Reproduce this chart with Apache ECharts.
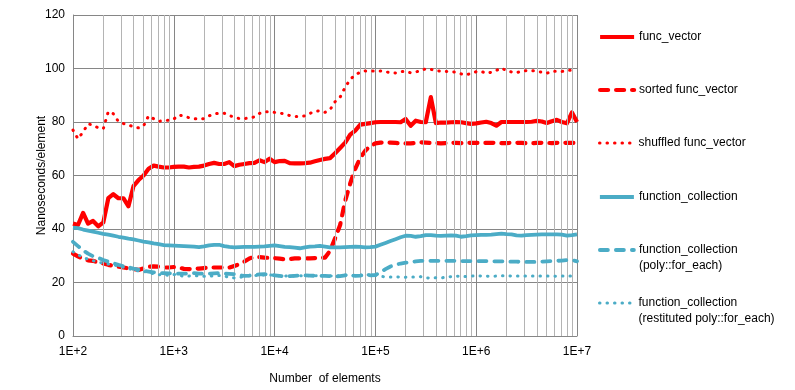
<!DOCTYPE html>
<html>
<head>
<meta charset="utf-8">
<script src="https://cdn.jsdelivr.net/npm/echarts@6/dist/echarts.min.js"></script>
<style>html,body{margin:0;padding:0;background:#fff}#chart{width:795px;height:390px}</style>
</head>
<body>
<div id="chart"></div>
<script>
// Number of elements (x values)
const xs = [100,112,126,141,158,178,200,224,251,282,316,355,398,447,501,562,631,708,794,891,
1000,1122,1259,1413,1585,1778,1995,2239,2512,2818,3162,3548,3981,4467,5012,5623,6310,7079,7943,8913,
10000,11220,12589,14125,15849,17783,19953,22387,25119,28184,31623,35481,39811,44668,50119,56234,63096,70795,79433,89125,
100000,112202,125893,141254,158489,177828,199526,223872,251189,281838,316228,354813,398107,446684,501187,562341,630957,707946,794328,891251,
1000000,1122018,1258925,1412538,1584893,1778279,1995262,2238721,2511886,2818383,3162278,3548134,3981072,4466836,5011872,5623413,6309573,7079458,7943282,8912509,
10000000];

const funcVector = [42,41.5,46,42,43,41,42.5,51.5,53,51.5,
51.5,48.5,56,58.3,60,62.5,63.7,63.3,63,63,
63.2,63.3,63.3,63,63.2,63.3,63.7,64.3,64.7,64.3,
64.3,65,63.5,64,64.3,64.6,64.7,65.7,65,66.3,
65,65.4,65.5,64.6,64.5,64.5,64.6,64.8,65.3,65.8,
66.2,66.5,68.3,70.3,72.3,75.3,76.8,79,79.3,79.6,
79.9,80,80,80,80,79.9,81.1,78.6,80.5,80,
79.9,89.3,79.6,79.8,79.8,79.9,80,79.9,79.6,79.3,
79.5,79.8,80.1,79.6,78.6,80,80,80,80,80,
80,80.1,80.4,80.2,79.6,80.3,80.8,80,79.5,83.6,
80];

const sortedFuncVector = [30.8,29.8,28.8,28.3,28.1,27.5,27.1,26.6,26.2,25.9,
25.6,25.3,25,24.7,25.3,25.9,26,25.9,25.6,25.6,
25.8,25.6,25.1,25,25.2,25.2,25.4,25.6,25.6,25.6,
25.6,25.6,26.2,26.8,27.8,29,29.6,29.5,29.3,29.2,
29.1,28.9,28.7,28.8,29,29,29,29,29.1,29.2,
29.3,31.8,36.5,41.5,50.5,57,62.5,66.6,69.3,71,
72,72.3,72.4,72.3,72.2,72,72,72,72.2,72.4,
72.3,72.2,72.1,72,72.1,72.2,72.2,72.1,72.2,72.2,
72.2,72.1,72.2,72.2,72.2,72.1,72.1,72.2,72.2,72.2,
72.1,72.1,72.2,72.2,72.2,72.1,72.2,72.2,72.2,72.2,
72.1];

const shuffledFuncVector = [77,73.7,76.3,79.3,78.9,77.8,77.5,83.9,83.1,80.2,
79.4,78.9,78.2,77.8,78.5,82.3,81.2,80.3,80.4,80.7,
81.1,82.6,82.2,81.6,81.3,81,81.3,82.3,83,83.3,
83.3,82.5,81.7,81.3,81.3,81.5,81.9,83.2,83.8,83.8,
83.6,83.4,82.9,82.4,82.1,82.1,82.3,83.2,84,84.2,
83.6,84.6,87.6,89.3,93,95.9,97.7,98.6,99.1,99.1,
99.1,99.1,98.8,98.4,98.3,98.8,98.9,98.4,98.7,99.2,
99.9,99.7,99.2,99,98.9,98.8,98.6,98,97.6,98.2,
98.8,98.9,98.2,98.6,99.3,100.2,99.2,98.7,98.4,99,
99.2,99.2,99,98.6,98.2,99,99,98.9,99.2,99.4,
99.4];

const functionCollection = [40.5,40.3,39.8,39.4,39,38.6,38.2,37.9,37.5,37.1,
36.8,36.4,36.1,35.7,35.3,35,34.6,34.3,34,33.9,
33.8,33.7,33.6,33.5,33.4,33.2,33.5,33.9,34.1,34.1,
33.6,33.3,33.1,33.2,33.3,33.3,33.3,33.4,33.5,33.7,
33.9,33.6,33.3,33.2,33,32.8,33.1,33.4,33.5,33.7,
33.4,33.1,33.1,33.1,33.2,33.3,33.4,33.3,33.1,33.2,
33.4,34.1,34.8,35.5,36.2,36.9,37.5,37.4,37.1,37.3,
37.7,37.7,37.5,37.4,37.5,37.6,37.5,37.1,37.3,37.6,
37.7,37.8,37.8,37.9,38.1,38.3,38.1,38,37.6,37.5,
37.7,37.8,37.9,38,38,38,38,37.9,37.5,37.7,
38];

const fcPolyForEach = [35.2,33.6,32,30.8,29.8,29.2,28.4,27.8,27.2,26.6,
26.1,25.7,25.2,24.8,24.4,24.1,23.8,23.6,23.5,23.4,
23.3,23.3,23.3,23.4,23.5,23.3,23.3,23.3,23.4,23.5,
23.3,23.2,23.1,22.7,22.5,22.6,22.8,23,23.1,22.9,
22.7,22.5,22.3,22.4,22.5,22.6,22.7,22.6,22.5,22.5,
22.5,22.4,22.2,22.4,22.7,22.6,22.5,22.6,22.8,22.7,
22.8,23.8,25,26,26.6,27.1,27.4,27.6,27.9,28.1,
28.1,28.1,28.1,28.1,28.1,28.1,28.1,28,28,28,
28,28,28,27.9,27.9,27.9,27.8,27.8,27.8,27.7,
27.7,27.7,27.7,27.8,27.9,28,28.1,28.2,28.4,28.4,
27.9];

const fcRestituted = [31.5,30.4,29.4,28.7,28.2,27.6,27.2,26.9,26.6,26.2,
25.7,25.2,24.7,24.3,24.1,23.9,23.2,22.9,23,22.6,
23,22.7,22.3,22.4,22.5,22.5,22.3,22.3,22.6,22.6,
22.4,21.9,21.7,21.8,22.4,22.5,22.6,22.7,22.8,22.8,
22.7,22.5,22.4,22.5,22.4,22.5,22.5,22.6,22.5,22.6,
22.6,22.5,22.4,22.6,22.8,22.6,22.6,22.7,22.9,22.9,
22.8,22.3,22.1,22.1,22.1,22,22,22.1,22.1,22.2,
21.8,21.6,21.8,21.7,22,22.2,22.4,22.3,22.2,22.4,
22.5,22.4,22.4,22.3,22.4,22.5,22.5,22.4,22.4,22.4,
22.4,22.4,22.4,22.4,22.4,22.4,22.3,22.4,22.4,22.4,
22.4];

// minor (2..9 per decade) gridline positions
const minorTicks = [200,300,400,500,600,700,800,900,
2000,3000,4000,5000,6000,7000,8000,9000,
20000,30000,40000,50000,60000,70000,80000,90000,
200000,300000,400000,500000,600000,700000,800000,900000,
2000000,3000000,4000000,5000000,6000000,7000000,8000000,9000000];

const seriesNames = ['func_vector','sorted func_vector','shuffled func_vector','function_collection','function_collection (poly::for_each)','function_collection (restituted poly::for_each)'];

const RED = '#FF0000', BLUE = '#4BACC6';
const FONT = 'Liberation Sans';

function pairs(ys){ return xs.map((x,i)=>[x, ys[i]]); }

const styles = [
  {color: RED, width: 4.2, type: 'solid'},
  {color: RED, width: 4.2, type: [8,8], cap: 'round'},
  {color: RED, width: 3, type: [0.5,7], cap: 'round'},
  {color: BLUE, width: 3.8, type: 'solid'},
  {color: BLUE, width: 3.8, type: [8,8], cap: 'round'},
  {color: BLUE, width: 3, type: [0.5,7], cap: 'round'}
];
const dataSets = [funcVector, sortedFuncVector, shuffledFuncVector, functionCollection, fcPolyForEach, fcRestituted];

const series = [{
  type: 'line', name: '_grid', data: [], z: 1, silent: true,
  markLine: {
    silent: true, symbol: 'none', animation: false,
    label: {show: false},
    lineStyle: {color: '#b4b4b4', width: 1, type: 'solid'},
    data: minorTicks.map(v => ({xAxis: v}))
  }
}];
dataSets.forEach((d, i) => {
  const s = styles[i];
  series.push({
    type: 'line', name: seriesNames[i], data: pairs(d), z: 3 + i,
    symbol: 'none', smooth: false, animation: false,
    lineStyle: {color: s.color, width: s.width, type: s.type, cap: s.cap || 'butt', join: 'round'},
    itemStyle: {color: s.color}
  });
});

const legendTops = [29, 82, 135, 189, 242, 295];
const legends = seriesNames.map((n, i) => {
  const multi = n.indexOf('function_collection (') === 0;
  return {
    left: 593, top: legendTops[i] - 5 - (multi ? 16 : 0),
    orient: 'vertical', selectedMode: false,
    data: [n], itemWidth: 34, itemHeight: 14, itemGap: 0, padding: 5,
    itemStyle: {opacity: 0},
    lineStyle: {width: styles[i].width, type: styles[i].type, cap: styles[i].cap || 'butt', color: styles[i].color},
    formatter: nm => multi ? (' \n' + nm.replace(' (', '\n(')) : nm,
    textStyle: {fontFamily: FONT, fontSize: 12, color: '#000', lineHeight: 16}
  };
});

const chart = echarts.init(document.getElementById('chart'), null, {renderer: 'canvas'});
chart.setOption({
  backgroundColor: '#fff',
  animation: false,
  grid: {left: 73, right: 218, top: 15, bottom: 53, containLabel: false},
  legend: legends,
  xAxis: {
    type: 'log', logBase: 10, min: 100, max: 10000000,
    name: 'Number  of elements', nameLocation: 'middle', nameGap: 37, nameMoveOverlap: false,
    nameTextStyle: {fontFamily: FONT, fontSize: 12, color: '#000'},
    axisLine: {lineStyle: {color: '#868686', width: 1}},
    axisTick: {show: false},
    axisLabel: {fontFamily: FONT, fontSize: 12, color: '#000', margin: 10,
      formatter: v => '1E+' + Math.round(Math.log10(v))},
    splitLine: {show: true, lineStyle: {color: '#868686', width: 1}}
  },
  yAxis: {
    type: 'value', min: 0, max: 120, interval: 20,
    name: 'Nanoseconds/element', nameLocation: 'middle', nameGap: 25, nameRotate: 90, nameMoveOverlap: false,
    nameTextStyle: {fontFamily: FONT, fontSize: 12, color: '#000'},
    axisLine: {show: true, lineStyle: {color: '#868686', width: 1}},
    axisTick: {show: false},
    axisLabel: {fontFamily: FONT, fontSize: 12, color: '#000', margin: 8},
    splitLine: {show: true, lineStyle: {color: '#868686', width: 1}}
  },
  series: series
});
</script>
</body>
</html>
